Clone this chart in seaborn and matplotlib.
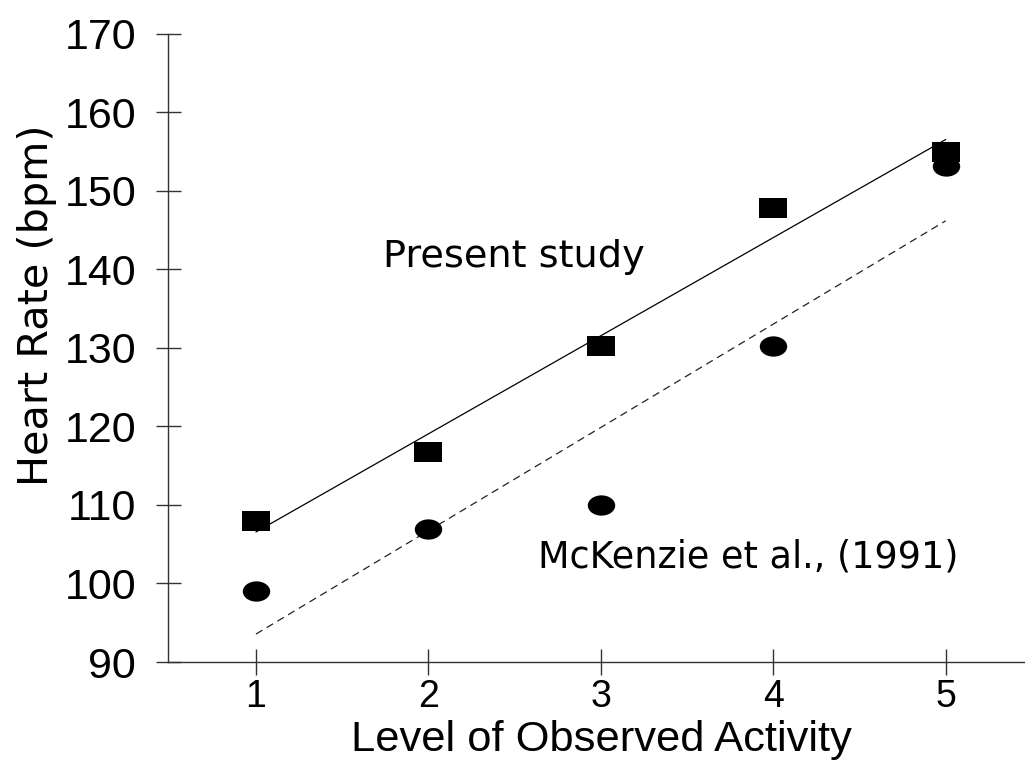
import numpy as np
import matplotlib
matplotlib.use("Agg")
import matplotlib.pyplot as plt
from matplotlib.path import Path
from matplotlib.transforms import Affine2D
import seaborn as sns

# Data
activity_levels = [1, 2, 3, 4, 5]
present_study_hr = [108.0, 116.8, 130.2, 147.8, 155.0]
mckenzie_hr = [99.0, 107.0, 110.0, 130.2, 153.2]
y_ticks = [90, 100, 110, 120, 130, 140, 150, 160, 170]
x_ticks = [1, 2, 3, 4, 5]

sns.set_theme(style="ticks")
plt.rcParams["font.family"] = ["Liberation Sans", "DejaVu Sans"]
plt.rcParams["text.color"] = "black"
plt.rcParams["axes.labelcolor"] = "black"
plt.rcParams["xtick.color"] = "black"
plt.rcParams["ytick.color"] = "black"

# wide markers (as in reference): rectangle and ellipse
rect_marker = Path([(-1, -0.74), (1, -0.74), (1, 0.74), (-1, 0.74), (-1, -0.74)],
                   [Path.MOVETO, Path.LINETO, Path.LINETO, Path.LINETO, Path.CLOSEPOLY])
ell_marker = Affine2D().scale(1.0, 0.74).transform_path(Path.unit_circle())

fig = plt.figure(figsize=(10.25, 7.7), dpi=100)
ax = fig.add_axes([168 / 1025, 1 - 662 / 770, 1 - 168 / 1025, (662 - 34) / 770])

msize = 390
sns.regplot(x=activity_levels, y=present_study_hr, ax=ax, ci=None, marker=rect_marker,
            scatter_kws=dict(s=msize, color="black", alpha=1, linewidths=0, zorder=3),
            line_kws=dict(color="black", lw=0.9, zorder=2))
sns.regplot(x=activity_levels, y=mckenzie_hr, ax=ax, ci=None, marker=ell_marker,
            scatter_kws=dict(s=msize, color="black", alpha=1, linewidths=0, zorder=3),
            line_kws=dict(color="#222222", lw=0.9, linestyle=(0, (6, 4)), zorder=2))

ax.set_xlim(0.49, 5.46)
ax.set_ylim(90, 170)
ax.set_xticks(x_ticks)
ax.set_yticks(y_ticks)
ax.set_xticklabels([str(v) for v in x_ticks], fontsize=27)
ax.set_yticklabels([str(v) for v in y_ticks], fontsize=31)
ax.tick_params(axis="y", direction="inout", length=18, width=1, pad=14, color="#333333")
ax.tick_params(axis="x", direction="inout", length=19, width=1, pad=3, color="#333333")

for side in ["top", "right"]:
    ax.spines[side].set_visible(False)
for side in ["left", "bottom"]:
    ax.spines[side].set_linewidth(1.0)
    ax.spines[side].set_color("#333333")

ax.set_xlabel("Level of Observed Activity", fontsize=31.3)
ax.xaxis.set_label_coords(0.506, -0.092)
ax.set_ylabel("Heart Rate (bpm)", fontsize=29.8, family="DejaVu Sans")
ax.yaxis.set_label_coords(-0.130, 0.568)

ax.text(1.737, 140.3, "Present study", fontsize=27.5, ha="left", va="baseline",
        family="DejaVu Sans")
ax.text(2.636, 102.1, "McKenzie et al., (1991)", fontsize=26.3, ha="left", va="baseline",
        family="DejaVu Sans")

ax.set_facecolor("white")
fig.patch.set_facecolor("white")
fig.savefig("out.png", dpi=100)
